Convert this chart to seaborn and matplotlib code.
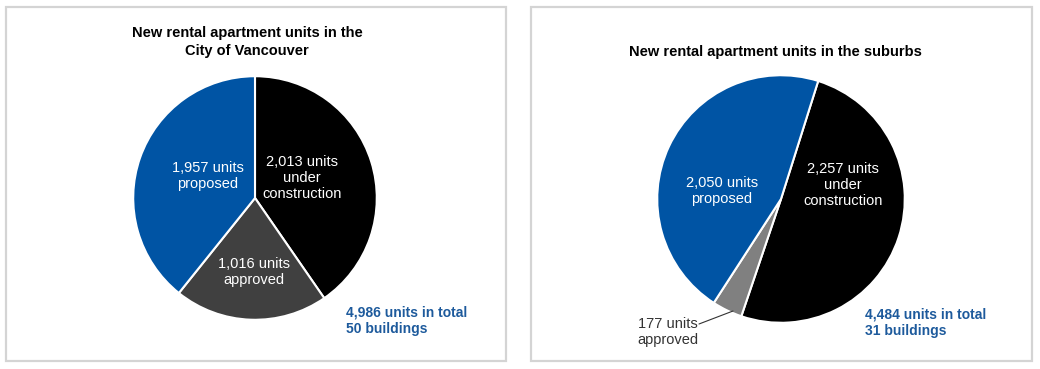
import matplotlib
matplotlib.use("Agg")
import matplotlib.pyplot as plt
import seaborn as sns
from matplotlib.patches import Rectangle

sns.set_theme(style="white")
plt.rcParams['font.family'] = ['Liberation Sans', 'DejaVu Sans']

# data
stages = ['under construction', 'approved', 'proposed']
city_units = [2013, 1016, 1957]
suburb_units = [2257, 177, 2050]
city_labels = ['2,013 units\nunder\nconstruction', '1,016 units\napproved', '1,957 units\nproposed']
suburb_labels = ['2,257 units\nunder\nconstruction', '177 units\napproved', '2,050 units\nproposed']
city_total = '4,986 units in total\n50 buildings'
suburb_total = '4,484 units in total\n31 buildings'
city_title = 'New rental apartment units in the\nCity of Vancouver'
suburb_title = 'New rental apartment units in the suburbs'

city_colors = ['#000000', '#404040', '#0054a4']
suburb_colors = ['#000000', '#808080', '#0054a4']
blue_text = '#1d5a9c'

W, H = 1040, 369
fig = plt.figure(figsize=(W / 100, H / 100), dpi=100)


def fx(px):
    return px / W


def fy(py):
    return 1 - py / H


# panel borders
for x0, x1 in [(6, 506), (531, 1032)]:
    fig.patches.append(Rectangle((fx(x0), fy(361)), fx(x1) - fx(x0), fy(7) - fy(361),
                                 transform=fig.transFigure, fill=False,
                                 edgecolor='#d4d4d4', linewidth=1.6))


def draw_pie(cx, cy, r, values, colors, start):
    ax = fig.add_axes([fx(cx - r), fy(cy + r), fx(2 * r), (2 * r) / H])
    ax.pie(values, colors=colors, startangle=start, counterclock=False,
           wedgeprops=dict(edgecolor='white', linewidth=1.5))
    ax.set_xlim(-1.01, 1.01)
    ax.set_ylim(-1.01, 1.01)
    ax.axis('off')
    return ax


draw_pie(255, 198, 123, city_units, city_colors, 90)
draw_pie(781, 199, 125, suburb_units, suburb_colors, 72.5)

lab = dict(fontsize=10.5, color='white', ha='center', va='center', linespacing=1.15)
fig.text(fx(302), fy(178), city_labels[0], **lab)
fig.text(fx(254), fy(272), city_labels[1], **lab)
fig.text(fx(208), fy(176), city_labels[2], **lab)

fig.text(fx(843), fy(185), suburb_labels[0], **lab)
fig.text(fx(722), fy(191), suburb_labels[2], **lab)
fig.text(fx(698), fy(332), suburb_labels[1], fontsize=10.5, color='#333333',
         ha='right', va='center', linespacing=1.15)
fig.add_artist(plt.Line2D([fx(699), fx(733)], [fy(324), fy(311)], color='#333333', linewidth=0.8))

tot = dict(fontsize=10, color=blue_text, ha='left', va='center', fontweight='bold',
           linespacing=1.25, family=['Liberation Sans Narrow', 'Liberation Sans'])
fig.text(fx(346), fy(321), city_total, **tot)
fig.text(fx(865), fy(323), suburb_total, **tot)

tt = dict(fontsize=10.5, color='black', ha='center', va='center', fontweight='bold',
          linespacing=1.3, family=['Liberation Sans Narrow', 'Liberation Sans'])
fig.text(fx(247), fy(42), city_title, **tt)
fig.text(fx(775), fy(52), suburb_title, **tt)

fig.savefig('out.png', dpi=100, facecolor='white')
